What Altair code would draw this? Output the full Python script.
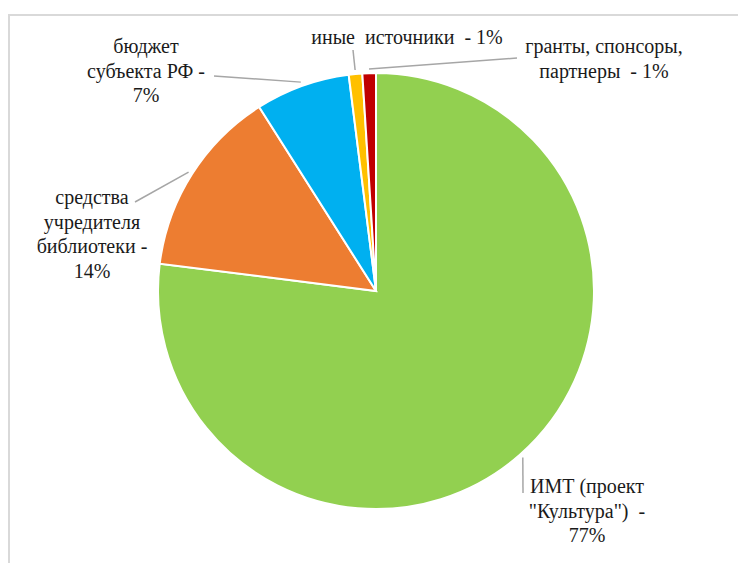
import altair as alt
import pandas as pd
import numpy as np

# ---- data ----
categories = ['ИМТ (проект "Культура")', "средства учредителя библиотеки",
              "бюджет субъекта РФ", "иные источники", "гранты, спонсоры, партнеры"]
shares = [77, 14, 7, 1, 1]
label_texts = ['ИМТ (проект\n"Культура")\u00a0\u00a0-\n77%',
               "средства\nучредителя\nбиблиотеки -\n14%",
               "бюджет\nсубъекта РФ -\n7%",
               "иные\u00a0\u00a0источники\u00a0\u00a0- 1%",
               "гранты, спонсоры,\nпартнеры\u00a0\u00a0- 1%"]
colors = ["#92D050", "#ED7D31", "#00B0F0", "#FFC000", "#C00000"]

# ---- layout (pixels in plot area) ----
CX, CY, R = 368, 283, 218
label_pos = [(579, 479), (84, 190), (138, 39), (399, 30), (596, 39)]
leader_end = [(515, 485), (127, 194), (206, 68), (345, 42), (509, 50)]
LEAD_R = R + 4

df = pd.DataFrame({"cat": categories, "share": shares, "order": list(range(len(shares)))})

total = float(sum(shares))
cum = np.cumsum(shares)
start = np.concatenate([[0], cum[:-1]])
mid = (start + cum) / 2 / total * 2 * np.pi
lead = pd.DataFrame({
    "x": CX + LEAD_R * np.sin(mid),
    "y": CY - LEAD_R * np.cos(mid),
    "x2": [p[0] for p in leader_end],
    "y2": [p[1] for p in leader_end],
})
labels = pd.DataFrame({
    "label": label_texts,
    "lx": [p[0] for p in label_pos],
    "ly": [p[1] for p in label_pos],
})

W, H = 730, 555
frame_df = pd.DataFrame({"d": [0]})
frame_top = alt.Chart(frame_df).mark_rule(color="#d9d9d9", strokeWidth=2).encode(
    x=alt.value(0), x2=alt.value(W), y=alt.value(7), y2=alt.value(7))
frame_left = alt.Chart(frame_df).mark_rule(color="#d9d9d9", strokeWidth=2).encode(
    x=alt.value(1), x2=alt.value(1), y=alt.value(6), y2=alt.value(H))

pie = alt.Chart(df).mark_arc(outerRadius=R, stroke="white", strokeWidth=2).encode(
    theta=alt.Theta("share:Q", stack=True),
    order=alt.Order("order:Q"),
    color=alt.Color("cat:N", scale=alt.Scale(domain=categories, range=colors), legend=None),
    x=alt.value(CX), y=alt.value(CY),
)

leaders = alt.Chart(lead).mark_rule(color="#a6a6a6", strokeWidth=1.5).encode(
    x=alt.X("x:Q", scale=None), y=alt.Y("y:Q", scale=None),
    x2="x2:Q", y2="y2:Q",
)

text = alt.Chart(labels).mark_text(font="Liberation Serif", fontSize=20,
                                   lineHeight=24.5, align="center", baseline="middle",
                                   lineBreak="\n", color="#1a1a1a").encode(
    x=alt.X("lx:Q", scale=None), y=alt.Y("ly:Q", scale=None), text="label:N")

chart = alt.layer(frame_top, frame_left, pie, leaders, text).properties(
    width=W, height=H, padding=0, autosize=alt.AutoSizeParams(type="none")
).configure_view(stroke=None)

chart.save("out.html", embed_options={"renderer": "svg", "actions": False})
